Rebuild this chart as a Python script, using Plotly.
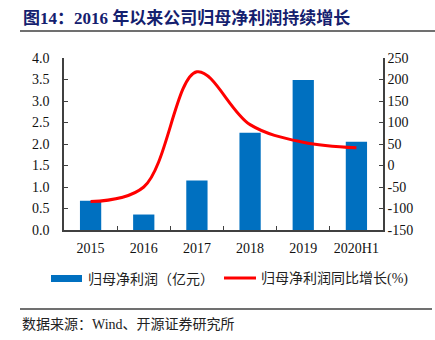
import plotly.graph_objects as go

# Annual data
years = ["2015", "2016", "2017", "2018", "2019", "2020H1"]
net_profit = [0.68, 0.36, 1.15, 2.26, 3.49, 2.05]          # 归母净利润（亿元）
yoy_growth = [-84, -50, 218, 95, 54, 41]                   # 同比增长(%)

left_ticks = [0, 0.5, 1.0, 1.5, 2.0, 2.5, 3.0, 3.5, 4.0]
right_ticks = [-150, -100, -50, 0, 50, 100, 150, 200, 250]

W, H = 435, 340
ML, MR, MT, MB = 64, 52, 58, 110
PW, PH = W - ML - MR, H - MT - MB

def px(x):
    return (x - ML) / PW

def py(y):
    return (H - MB - y) / PH

SERIF = "Liberation Serif, 'Times New Roman', 'Noto Sans CJK SC', serif"
CJK = "'Noto Sans CJK SC', sans-serif"
AXIS_COLOR = "#404040"

fig = go.Figure()
fig.add_trace(go.Bar(
    x=years, y=net_profit, name="归母净利润（亿元）",
    marker=dict(color="#0070C0", line=dict(width=0)),
    width=0.4, yaxis="y",
))
fig.add_trace(go.Scatter(
    x=years, y=yoy_growth, name="归母净利润同比增长(%)",
    mode="lines", line=dict(color="#FF0000", width=3, shape="spline", smoothing=1.0),
    yaxis="y2",
))

tick_font = dict(family=SERIF, size=14, color="#111111")

fig.update_layout(
    width=W, height=H, autosize=False,
    margin=dict(l=ML, r=MR, t=MT, b=MB),
    paper_bgcolor="white", plot_bgcolor="white",
    showlegend=False,
    bargap=0.6,
    xaxis=dict(
        type="category", showgrid=False, showline=True, linecolor=AXIS_COLOR, linewidth=1.5,
        ticks="inside", tickson="boundaries", ticklen=4, tickcolor=AXIS_COLOR,
        tickfont=tick_font, zeroline=False, ticklabelstandoff=4, tickangle=0,
    ),
    yaxis=dict(
        range=[0, 4], tickvals=left_ticks, ticktext=[f"{v:.1f}" for v in left_ticks],
        showgrid=False, showline=True, linecolor=AXIS_COLOR, linewidth=1.5,
        ticks="inside", ticklen=4, tickcolor=AXIS_COLOR, tickfont=tick_font, zeroline=False,
        ticklabelstandoff=10,
    ),
    yaxis2=dict(
        range=[-150, 250], tickvals=right_ticks, ticktext=[str(v) for v in right_ticks],
        overlaying="y", side="right",
        showgrid=False, showline=True, linecolor=AXIS_COLOR, linewidth=1.5,
        ticks="inside", ticklen=4, tickcolor=AXIS_COLOR, tickfont=tick_font, zeroline=False,
    ),
)

shapes = [
    # rule under the heading
    dict(type="line", xref="paper", yref="paper", x0=px(20), x1=px(435), y0=py(31), y1=py(31),
         line=dict(color="#404040", width=1.5)),
    # rule above the source note
    dict(type="line", xref="paper", yref="paper", x0=px(20), x1=px(432), y0=py(309), y1=py(309),
         line=dict(color="#404040", width=1.5)),
    # legend keys
    dict(type="rect", xref="paper", yref="paper", x0=px(51), x1=px(82), y0=py(282), y1=py(275),
         fillcolor="#0070C0", line=dict(width=0)),
    dict(type="line", xref="paper", yref="paper", x0=px(224), x1=px(256), y0=py(278), y1=py(278),
         line=dict(color="#FF0000", width=3)),
]

annotations = [
    dict(text="<b>图14：2016 年以来公司归母净利润持续增长</b>", xref="paper", yref="paper",
         x=px(21), y=py(18), xanchor="left", yanchor="middle", showarrow=False,
         font=dict(family=SERIF, size=17, color="#14206E")),
    dict(text="归母净利润（亿元）", xref="paper", yref="paper",
         x=px(86), y=py(278), xanchor="left", yanchor="middle", showarrow=False,
         font=dict(family=CJK, size=14, color="#222222")),
    dict(text="归母净利润同比增长(%)", xref="paper", yref="paper",
         x=px(259), y=py(278), xanchor="left", yanchor="middle", showarrow=False,
         font=dict(family=SERIF, size=14, color="#222222")),
    dict(text="数据来源：Wind、开源证券研究所", xref="paper", yref="paper",
         x=px(20), y=py(324), xanchor="left", yanchor="middle", showarrow=False,
         font=dict(family=SERIF, size=14, color="#222222")),
]

fig.update_layout(shapes=shapes, annotations=annotations)
fig.write_html("out.html")
